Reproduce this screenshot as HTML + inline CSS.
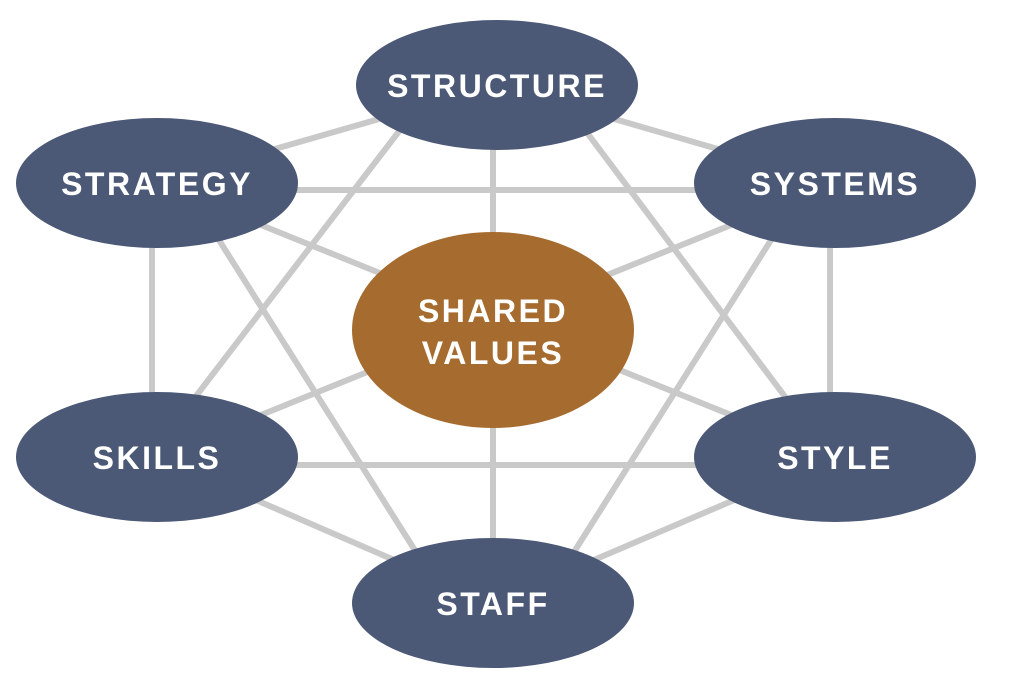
<!DOCTYPE html>
<html><head><meta charset="utf-8"><style>
html,body{margin:0;padding:0;background:#fff;}
svg{display:block;}
text{font-family:"Liberation Sans",sans-serif;font-weight:bold;fill:#fff;font-size:32px;letter-spacing:2.5px;text-anchor:middle;}
</style></head><body>
<svg width="1022" height="675" viewBox="0 0 1022 675">
<g stroke="#c9c9c9" stroke-width="6" fill="none">
<line x1="497" y1="85" x2="157" y2="183"/>
<line x1="497" y1="85" x2="835" y2="183"/>
<line x1="400" y1="130" x2="170" y2="430"/>
<line x1="585" y1="130" x2="810" y2="430"/>
<line x1="493" y1="85" x2="493" y2="603"/>
<line x1="157" y1="190" x2="835" y2="190"/>
<line x1="152" y1="183" x2="152" y2="457"/>
<line x1="830" y1="183" x2="830" y2="457"/>
<line x1="157" y1="465" x2="835" y2="465"/>
<line x1="200" y1="210" x2="440" y2="590"/>
<line x1="790" y1="210" x2="550" y2="590"/>
<line x1="157" y1="457" x2="493" y2="603"/>
<line x1="835" y1="457" x2="493" y2="603"/>
<line x1="157" y1="183" x2="835" y2="457"/>
<line x1="835" y1="183" x2="157" y2="457"/>
</g>
<g fill="#4b5876">
<ellipse cx="497" cy="85" rx="141" ry="65"/>
<ellipse cx="157" cy="183" rx="141" ry="65"/>
<ellipse cx="835" cy="183" rx="141" ry="65"/>
<ellipse cx="157" cy="457" rx="141" ry="65"/>
<ellipse cx="835" cy="457" rx="141" ry="65"/>
<ellipse cx="493" cy="603" rx="141" ry="65"/>
</g>
<ellipse cx="493" cy="330" rx="141" ry="98" fill="#a66c2f"/>
<text x="497" y="97">STRUCTURE</text>
<text x="157" y="195">STRATEGY</text>
<text x="835" y="195">SYSTEMS</text>
<text x="157" y="469">SKILLS</text>
<text x="835" y="469">STYLE</text>
<text x="493" y="615">STAFF</text>
<text x="493" y="322">SHARED</text>
<text x="493" y="364">VALUES</text>
</svg>
</body></html>
